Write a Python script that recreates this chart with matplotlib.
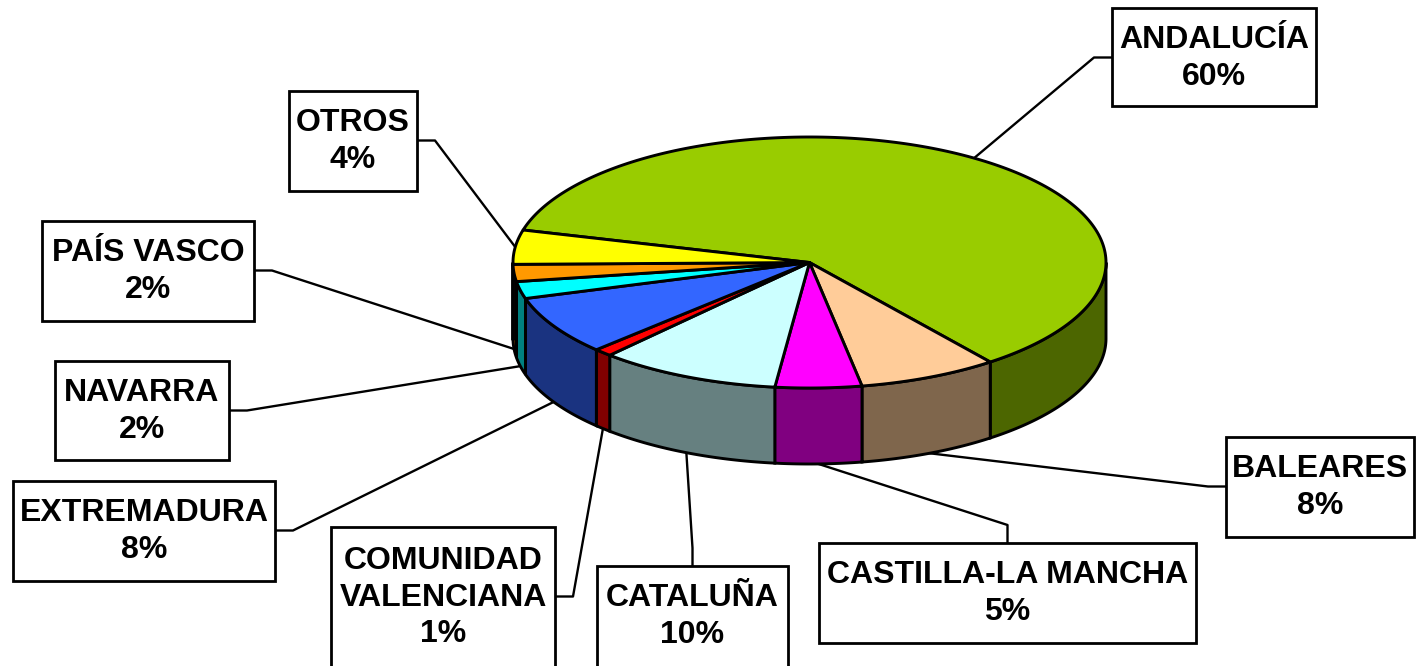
import numpy as np
import matplotlib.pyplot as plt
from matplotlib.patches import Polygon, Rectangle

plt.rcParams["font.family"] = ["Liberation Sans", "DejaVu Sans"]

# data (percentages, order as in the source sheet)
regions = [
    "ANDALUCÍA",
    "BALEARES",
    "CASTILLA-LA MANCHA",
    "CATALUÑA",
    "COMUNIDAD\nVALENCIANA",
    "EXTREMADURA",
    "NAVARRA",
    "PAÍS VASCO",
    "OTROS",
]
shares = [60.4, 7.6, 4.7, 9.9, 1.0, 7.6, 2.2, 2.2, 4.4]
top_colors = ["#99CC00", "#FFCC99", "#FF00FF", "#CCFFFF", "#FF0000",
              "#3366FF", "#00FFFF", "#FF9900", "#FFFF00"]
side_colors = ["#4C6600", "#7F664C", "#800080", "#668080", "#800000",
               "#1A3380", "#008080", "#804C00", "#808000"]

# layout of the pie (pixel space)
CX, CY, RX, RY, DEPTH = 809.5, 262.5, 296.5, 125.5, 76
START_ANGLE = 165.0

# label boxes: x0, y0, x1, y1, side where the leader line joins
label_boxes = [
    (1112, 8, 1316, 106, "left"),
    (1226, 437, 1414, 537, "left"),
    (819, 543, 1196, 643, "top"),
    (597, 566, 788, 672, "top"),
    (331, 527, 555, 672, "right"),
    (13, 481, 275, 581, "right"),
    (55, 361, 229, 460, "right"),
    (42, 221, 254, 321, "right"),
    (289, 91, 417, 191, "right"),
]


def ellipse_point(t_deg, drop=0.0):
    t = np.radians(t_deg)
    return CX + RX * np.cos(t), CY - RY * np.sin(t) + drop


def main():
    fig = plt.figure(figsize=(14.16, 6.66), dpi=100)
    ax = fig.add_axes([0, 0, 1, 1])
    ax.set_xlim(0, 1416)
    ax.set_ylim(666, 0)
    ax.axis("off")

    total = sum(shares)
    bounds = START_ANGLE - 360 * np.concatenate([[0], np.cumsum(shares)]) / total

    # side walls (front half only)
    for i in range(len(shares)):
        a_start, a_end = bounds[i], bounds[i + 1]
        hi = min(a_start, 0)
        lo = max(a_end, -180)
        if hi <= lo:
            continue
        t = np.linspace(hi, lo, 80)
        xt, yt = ellipse_point(t)
        xb, yb = ellipse_point(t[::-1], DEPTH)
        pts = np.column_stack([np.concatenate([xt, xb]), np.concatenate([yt, yb])])
        ax.add_patch(Polygon(pts, closed=True, facecolor=side_colors[i],
                             edgecolor="black", linewidth=2.1, zorder=2))

    # top face
    for i in range(len(shares)):
        t = np.linspace(bounds[i], bounds[i + 1], 200)
        xs, ys = ellipse_point(t)
        pts = np.column_stack([np.concatenate([[CX], xs]), np.concatenate([[CY], ys])])
        ax.add_patch(Polygon(pts, closed=True, facecolor=top_colors[i],
                             edgecolor="black", linewidth=2.1, zorder=3,
                             joinstyle="round"))

    # labels with leader lines
    for i, name in enumerate(regions):
        x0, y0, x1, y1, side = label_boxes[i]
        mid = (bounds[i] + bounds[i + 1]) / 2
        drop = DEPTH if np.sin(np.radians(mid)) < 0 else 0
        px, py = ellipse_point(mid, drop)

        text = f"{name}\n{round(shares[i] / total * 100)}%"
        n_lines = text.count("\n") + 1
        ty = y0 + (n_lines * 40 + 19) / 2
        tx = (x0 + x1) / 2

        if side == "left":
            elbow, join = (x0 - 18, ty), (x0, ty)
        elif side == "right":
            elbow, join = (x1 + 18, ty), (x1, ty)
        else:
            elbow, join = (tx, y0 - 18), (tx, y0)
        ax.plot([px, elbow[0], join[0]], [py, elbow[1], join[1]],
                color="black", linewidth=1.7, zorder=1)

        ax.add_patch(Rectangle((x0, y0), x1 - x0, y1 - y0, facecolor="white",
                               edgecolor="black", linewidth=2.0, zorder=4))
        ax.text(tx, ty + 1, text, ha="center", va="center", fontsize=23,
                fontweight="bold", linespacing=1.28, zorder=5)

    fig.savefig("out.png", dpi=100)


if __name__ == "__main__":
    main()
